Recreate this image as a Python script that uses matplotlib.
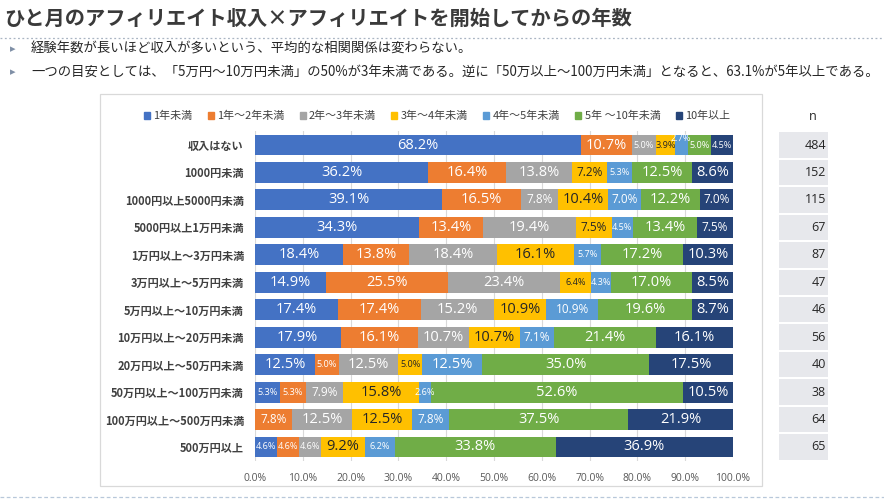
import matplotlib
matplotlib.use("Agg")
import matplotlib.pyplot as plt
import matplotlib.patches as patches
from matplotlib.lines import Line2D
import numpy as np

plt.rcParams['font.family'] = ['Noto Sans CJK JP', 'DejaVu Sans']

title = "ひと月のアフィリエイト収入×アフィリエイトを開始してからの年数"
bullets = [
    "経験年数が長いほど収入が多いという、平均的な相関関係は変わらない。",
    "一つの目安としては、「5万円～10万円未満」の50%が3年未満である。逆に「50万以上～100万円未満」となると、63.1%が5年以上である。",
]

categories = [
    "収入はない", "1000円未満", "1000円以上5000円未満", "5000円以上1万円未満",
    "1万円以上～3万円未満", "3万円以上～5万円未満", "5万円以上～10万円未満",
    "10万円以上～20万円未満", "20万円以上～50万円未満", "50万円以上～100万円未満",
    "100万円以上～500万円未満", "500万円以上",
]
series_names = ["1年未満", "1年～2年未満", "2年～3年未満", "3年～4年未満",
                "4年～5年未満", "5年 ～10年未満", "10年以上"]
y_lt1 = [68.2, 36.2, 39.1, 34.3, 18.4, 14.9, 17.4, 17.9, 12.5, 5.3, 0.0, 4.6]
y_1to2 = [10.7, 16.4, 16.5, 13.4, 13.8, 25.5, 17.4, 16.1, 5.0, 5.3, 7.8, 4.6]
y_2to3 = [5.0, 13.8, 7.8, 19.4, 18.4, 23.4, 15.2, 10.7, 12.5, 7.9, 12.5, 4.6]
y_3to4 = [3.9, 7.2, 10.4, 7.5, 16.1, 6.4, 10.9, 10.7, 5.0, 15.8, 12.5, 9.2]
y_4to5 = [2.7, 5.3, 7.0, 4.5, 5.7, 4.3, 10.9, 7.1, 12.5, 2.6, 7.8, 6.2]
y_5to10 = [5.0, 12.5, 12.2, 13.4, 17.2, 17.0, 19.6, 21.4, 35.0, 52.6, 37.5, 33.8]
y_10plus = [4.5, 8.6, 7.0, 7.5, 10.3, 8.5, 8.7, 16.1, 17.5, 10.5, 21.9, 36.9]
n_values = [484, 152, 115, 67, 87, 47, 46, 56, 40, 38, 64, 65]
xtick_values = [0, 10, 20, 30, 40, 50, 60, 70, 80, 90, 100]

series = [y_lt1, y_1to2, y_2to3, y_3to4, y_4to5, y_5to10, y_10plus]
colors = ["#4472C4", "#ED7D31", "#A5A5A5", "#FFC000", "#5B9BD5", "#70AD47", "#264478"]
label_colors = ["white", "white", "white", "#262626", "white", "white", "white"]

W, H = 884, 503
fig = plt.figure(figsize=(W / 100, H / 100), dpi=100)

def fx(px):
    return px / W

def fy(py):
    return 1 - py / H

# Title and bullets
fig.text(fx(4), fy(18), title, fontsize=14.6, fontweight='bold', color='#3a3a3a', va='center', ha='left')
fig.add_artist(Line2D([0, 1], [fy(38), fy(38)], transform=fig.transFigure, color='#a9b4c2',
                      linestyle=(0, (1.5, 2)), linewidth=0.9))
for i, b in enumerate(bullets):
    yy = fy(49 + 23 * i)
    fig.text(fx(10), yy, "▸", fontsize=8, color='#7f8fa6', va='center', ha='left',
             family=['DejaVu Sans'])
    fig.text(fx(31), yy, b, fontsize=9.6, color='#262626', va='center', ha='left')
fig.add_artist(Line2D([0, 1], [fy(497), fy(497)], transform=fig.transFigure, color='#b8c8da',
                      linestyle=(0, (3, 2)), linewidth=0.9))

# Chart frame
fig.add_artist(patches.Rectangle((fx(100), fy(486)), fx(762) - fx(100), fy(94) - fy(486),
                                 transform=fig.transFigure, fill=False, edgecolor='#d9d9d9', linewidth=0.9))

# Main axes
top_px, bot_px = 131.3, 460.7
ax = fig.add_axes([fx(255), fy(bot_px), fx(733) - fx(255), fy(top_px) - fy(bot_px)])
ypos = np.arange(len(categories))
left = np.zeros(len(categories))
for k, (vals, c) in enumerate(zip(series, colors)):
    vals = np.array(vals)
    ax.barh(ypos, vals, left=left, height=0.76, color=c, label=series_names[k], zorder=3)
    for i, v in enumerate(vals):
        if v <= 0:
            continue
        if v < 7:
            fs = 6.6
        elif v < 8 or (k == 4 and v < 11):
            fs = 8.5
        else:
            fs = 10.5
        yoff = 0
        if k == 4 and i == 0:
            yoff = -0.22
        ax.text(left[i] + v / 2, ypos[i] + yoff, f"{v:.1f}%", ha='center', va='center',
                fontsize=fs, color=label_colors[k], zorder=4, family=['Open Sans', 'DejaVu Sans'])
    left = left + vals

ax.set_xlim(0, 100)
ax.set_ylim(len(categories) - 0.5, -0.5)
ax.set_xticks(xtick_values)
ax.set_xticklabels([f"{v:.1f}%" for v in xtick_values], fontsize=7.5, color='#595959',
                   family=['Open Sans', 'DejaVu Sans'])
ax.set_yticks(ypos)
ax.set_yticklabels(categories, fontsize=8, fontweight='bold', color='#404040')
ax.tick_params(axis='both', length=0)
ax.tick_params(axis='x', pad=9)
ax.tick_params(axis='y', pad=8)
ax.grid(axis='x', color='#d9d9d9', linewidth=0.8, zorder=0)
for s in ax.spines.values():
    s.set_visible(False)

# Legend
handles = [patches.Patch(color=c) for c in colors]
fig.legend(handles, series_names, loc='center', bbox_to_anchor=(fx(437), fy(116)), ncol=7,
           frameon=False, fontsize=7.9, handlelength=0.55, handleheight=0.55,
           handletextpad=0.3, columnspacing=1.4, labelcolor='#404040')

# n column
axn = fig.add_axes([fx(779), fy(bot_px), fx(828) - fx(779), fy(top_px) - fy(bot_px)])
axn.barh(ypos, [1] * len(ypos), height=0.93, color='#e7e8ec')
for i, n in enumerate(n_values):
    axn.text(0.96, ypos[i], str(n), ha='right', va='center', fontsize=9, color='#262626',
             family=['Open Sans', 'DejaVu Sans'])
axn.set_xlim(0, 1)
axn.set_ylim(len(categories) - 0.5, -0.5)
axn.axis('off')
fig.text(fx(813), fy(116), "n", fontsize=9, color='#262626', ha='center', va='center',
         family=['Open Sans', 'DejaVu Sans'])

fig.savefig("out.png", dpi=100)
